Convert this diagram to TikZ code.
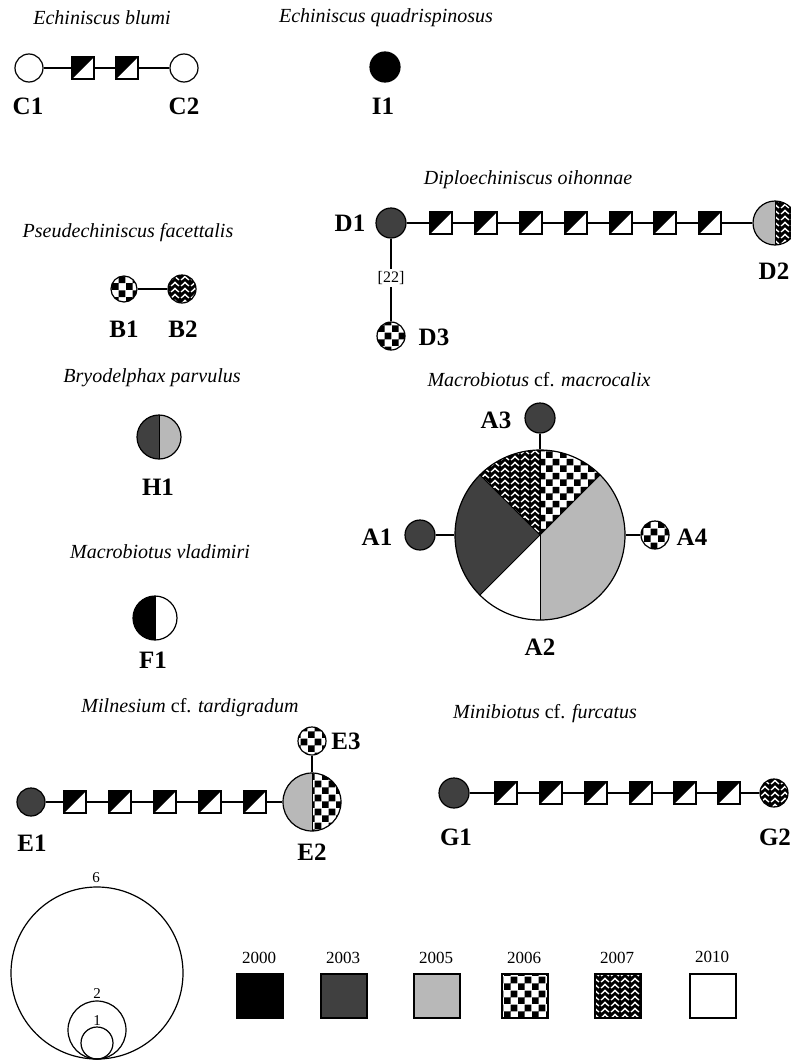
\documentclass[tikz,border=0pt]{standalone}
\usepackage{fontspec}
\setmainfont{Liberation Serif}
\usetikzlibrary{patterns}
\pgfdeclarepatternformonly{bigcheck}{\pgfpointorigin}{\pgfqpoint{14pt}{14pt}}{\pgfqpoint{14pt}{14pt}}{%
 \pgfpathrectangle{\pgfpointorigin}{\pgfqpoint{7pt}{7pt}}%
 \pgfpathrectangle{\pgfqpoint{7pt}{7pt}}{\pgfqpoint{7pt}{7pt}}%
 \pgfusepath{fill}}
\pgfdeclarepatternformonly{herring}{\pgfqpoint{-1pt}{-1pt}}{\pgfqpoint{11pt}{7pt}}{\pgfqpoint{10pt}{6pt}}{%
 \pgfsetlinewidth{1.4pt}%
 \pgfpathmoveto{\pgfqpoint{1.2pt}{0pt}}\pgfpathlineto{\pgfqpoint{5pt}{3.6pt}}\pgfpathlineto{\pgfqpoint{8.8pt}{0pt}}%
 \pgfusepath{stroke}}
\definecolor{g3}{gray}{0.25}
\definecolor{g5}{gray}{0.72}
\begin{document}
\begin{tikzpicture}[x=1pt,y=-1pt,
 hap/.style={circle, draw=black, line width=1.2pt, inner sep=0pt, minimum size=#1},
 mut/.style={rectangle, draw=black, line width=1.2pt, minimum size=22pt, inner sep=0pt, fill=white,
   path picture={\fill[black] (path picture bounding box.south west) -- (path picture bounding box.north west) -- (path picture bounding box.north east) -- cycle;}},
 conn/.style={line width=2.6pt},
 lab/.style={font=\bfseries\fontsize{25}{25}\selectfont, inner sep=0pt},
 ttl/.style={font=\itshape\fontsize{20}{24}\selectfont, inner sep=0pt},
 num/.style={font=\fontsize{15}{15}\selectfont, inner sep=0pt},
 yr/.style={font=\fontsize{17}{17}\selectfont, inner sep=0pt},
 legbox/.style={rectangle, draw=black, line width=1.2pt, minimum width=46pt, minimum height=44pt, inner sep=0pt},
 c03/.style={fill=g3}, c05/.style={fill=g5}, c00/.style={fill=black}, c10/.style={fill=white},
 c06/.style={fill=white, postaction={pattern=bigcheck, pattern color=black}},
 c07/.style={fill=black, postaction={pattern=herring, pattern color=white}},
 full/.style={path picture={\path[#1] (path picture bounding box.south west) rectangle (path picture bounding box.north east);}},
 split/.style 2 args={path picture={\path[#1] (path picture bounding box.south west) rectangle (path picture bounding box.north);
   \path[#2] (path picture bounding box.south) rectangle (path picture bounding box.north east);
   \draw[line width=0.9pt] (path picture bounding box.south) -- (path picture bounding box.north);}}
]
\useasboundingbox (0,0) rectangle (791,1060);
\fill[white] (0,0) rectangle (791,1060);

% --- Echiniscus blumi
\node[ttl] (tC) at (102,18) {Echiniscus blumi};
\node[hap=28pt, fill=white] (C1) at (29,68) {};
\node[mut] (c1) at (83,68) {};
\node[mut] (c2) at (127,68) {};
\node[hap=28pt, fill=white] (C2) at (184,68) {};
\draw[conn] (C1) -- (c1) -- (c2) -- (C2);
\node[lab] (lC1) at (28,106) {C1};
\node[lab] (lC2) at (184,106) {C2};

% --- Echiniscus quadrispinosus
\node[ttl] (tI) at (386,18) {Echiniscus quadrispinosus};
\node[hap=30pt, fill=black] (I1) at (385,67) {};
\node[lab] (lI1) at (383,106) {I1};

% --- Diploechiniscus oihonnae
\node[ttl] (tD) at (528,180) {Diploechiniscus oihonnae};
\node[hap=30pt, fill=g3] (D1) at (391,223) {};
\node[mut] (d1) at (441,223) {};
\node[mut] (d2) at (486,223) {};
\node[mut] (d3) at (531,223) {};
\node[mut] (d4) at (576,223) {};
\node[mut] (d5) at (621,223) {};
\node[mut] (d6) at (665,223) {};
\node[mut] (d7) at (710,223) {};
\node[hap=44pt, split={c05}{c07}] (D2) at (775,223) {};
\draw[conn] (D1) -- (d1) -- (d2) -- (d3) -- (d4) -- (d5) -- (d6) -- (d7) -- (D2);
\node[font=\fontsize{16}{16}\selectfont, inner sep=2pt] (n22) at (391,278) {[22]};
\node[hap=28pt, full=c06] (D3) at (391,336) {};
\draw[conn] (D1) -- (n22) -- (D3);
\node[lab] (lD1) at (350,223) {D1};
\node[lab] (lD2) at (774,271) {D2};
\node[lab] (lD3) at (434,337) {D3};

% --- Pseudechiniscus facettalis
\node[ttl] (tB) at (128,233) {Pseudechiniscus facettalis};
\node[hap=26pt, full=c06] (B1) at (124,289) {};
\node[hap=28pt, full=c07] (B2) at (182,289) {};
\draw[conn] (B1) -- (B2);
\node[lab] (lB1) at (124,329) {B1};
\node[lab] (lB2) at (183,329) {B2};

% --- Bryodelphax parvulus
\node[ttl] (tH) at (152,378) {Bryodelphax parvulus};
\node[hap=44pt, split={c03}{c05}] (H1) at (159,437) {};
\node[lab] (lH1) at (158,487) {H1};

% --- Macrobiotus vladimiri
\node[ttl] (tF) at (160,552) {Macrobiotus vladimiri};
\node[hap=44pt, split={c00}{c10}] (F1) at (155,618) {};
\node[lab] (lF1) at (153,660) {F1};

% --- Macrobiotus cf. macrocalix
\node[ttl] (tA) at (539,380) {Macrobiotus \textup{cf.} macrocalix};
\begin{scope}[shift={(540,535)}, y=1pt]
 \path[c05] (0,0) -- (-90:85) arc[start angle=-90, end angle=45, radius=85] -- cycle;
 \path[c06] (0,0) -- (45:85) arc[start angle=45, end angle=90, radius=85] -- cycle;
 \path[c07] (0,0) -- (90:85) arc[start angle=90, end angle=135, radius=85] -- cycle;
 \path[c03] (0,0) -- (135:85) arc[start angle=135, end angle=225, radius=85] -- cycle;
 \path[c10] (0,0) -- (225:85) arc[start angle=225, end angle=270, radius=85] -- cycle;
 \foreach \a in {-90,45,90,135,225} \draw[line width=1pt] (0,0) -- (\a:85);
\end{scope}
\node[hap=170pt] (A2) at (540,535) {};
\node[hap=30pt, fill=g3] (A3) at (540,418) {};
\node[hap=30pt, fill=g3] (A1) at (420,535) {};
\node[hap=28pt, full=c06] (A4) at (655,535) {};
\draw[conn] (A3) -- (A2);
\draw[conn] (A1) -- (A2);
\draw[conn] (A4) -- (A2);
\node[lab] (lA3) at (496,420) {A3};
\node[lab] (lA1) at (377,537) {A1};
\node[lab] (lA4) at (692,537) {A4};
\node[lab] (lA2) at (540,647) {A2};

% --- Milnesium cf. tardigradum
\node[ttl] (tE) at (190,708) {Milnesium \textup{cf.} tardigradum};
\node[hap=28pt, fill=g3] (E1) at (31,802) {};
\node[mut] (e1) at (75,802) {};
\node[mut] (e2) at (120,802) {};
\node[mut] (e3) at (165,802) {};
\node[mut] (e4) at (210,802) {};
\node[mut] (e5) at (255,802) {};
\node[hap=58pt, split={c05}{c06}] (E2) at (312,802) {};
\node[hap=28pt, full=c06] (E3) at (312,741) {};
\draw[conn] (E1) -- (e1) -- (e2) -- (e3) -- (e4) -- (e5) -- (E2);
\draw[conn] (E3) -- (E2);
\node[lab] (lE1) at (32,843) {E1};
\node[lab] (lE2) at (312,852) {E2};
\node[lab] (lE3) at (346,741) {E3};

% --- Minibiotus cf. furcatus
\node[ttl] (tG) at (545,714) {Minibiotus \textup{cf.} furcatus};
\node[hap=30pt, fill=g3] (G1) at (454,793) {};
\node[mut] (f1) at (506,793) {};
\node[mut] (f2) at (551,793) {};
\node[mut] (f3) at (596,793) {};
\node[mut] (f4) at (641,793) {};
\node[mut] (f5) at (685,793) {};
\node[mut] (f6) at (729,793) {};
\node[hap=28pt, full=c07] (G2) at (774,793) {};
\draw[conn] (G1) -- (f1) -- (f2) -- (f3) -- (f4) -- (f5) -- (f6) -- (G2);
\node[lab] (lG1) at (456,837) {G1};
\node[lab] (lG2) at (775,837) {G2};

% --- size legend
\node[hap=172pt] (L6) at (97,973) {};
\node[hap=58pt] (L2) at (97,1030) {};
\node[hap=32pt] (L1) at (97,1043) {};
\node[num] (n6) at (96,878) {6};
\node[num] (n2) at (97,994) {2};
\node[num] (n1) at (97,1021) {1};

% --- year legend
\node[legbox, fill=black] (Y00) at (260,996) {};
\node[legbox, fill=g3] (Y03) at (344,996) {};
\node[legbox, fill=g5] (Y05) at (437,996) {};
\node[legbox, full=c06] (Y06) at (525,996) {};
\node[legbox, full=c07] (Y07) at (618,996) {};
\node[legbox, fill=white] (Y10) at (713,996) {};
\node[yr] (y00) at (259,958) {2000};
\node[yr] (y03) at (343,958) {2003};
\node[yr] (y05) at (436,958) {2005};
\node[yr] (y06) at (524,958) {2006};
\node[yr] (y07) at (617,958) {2007};
\node[yr] (y10) at (712,957) {2010};
\end{tikzpicture}
\end{document}
